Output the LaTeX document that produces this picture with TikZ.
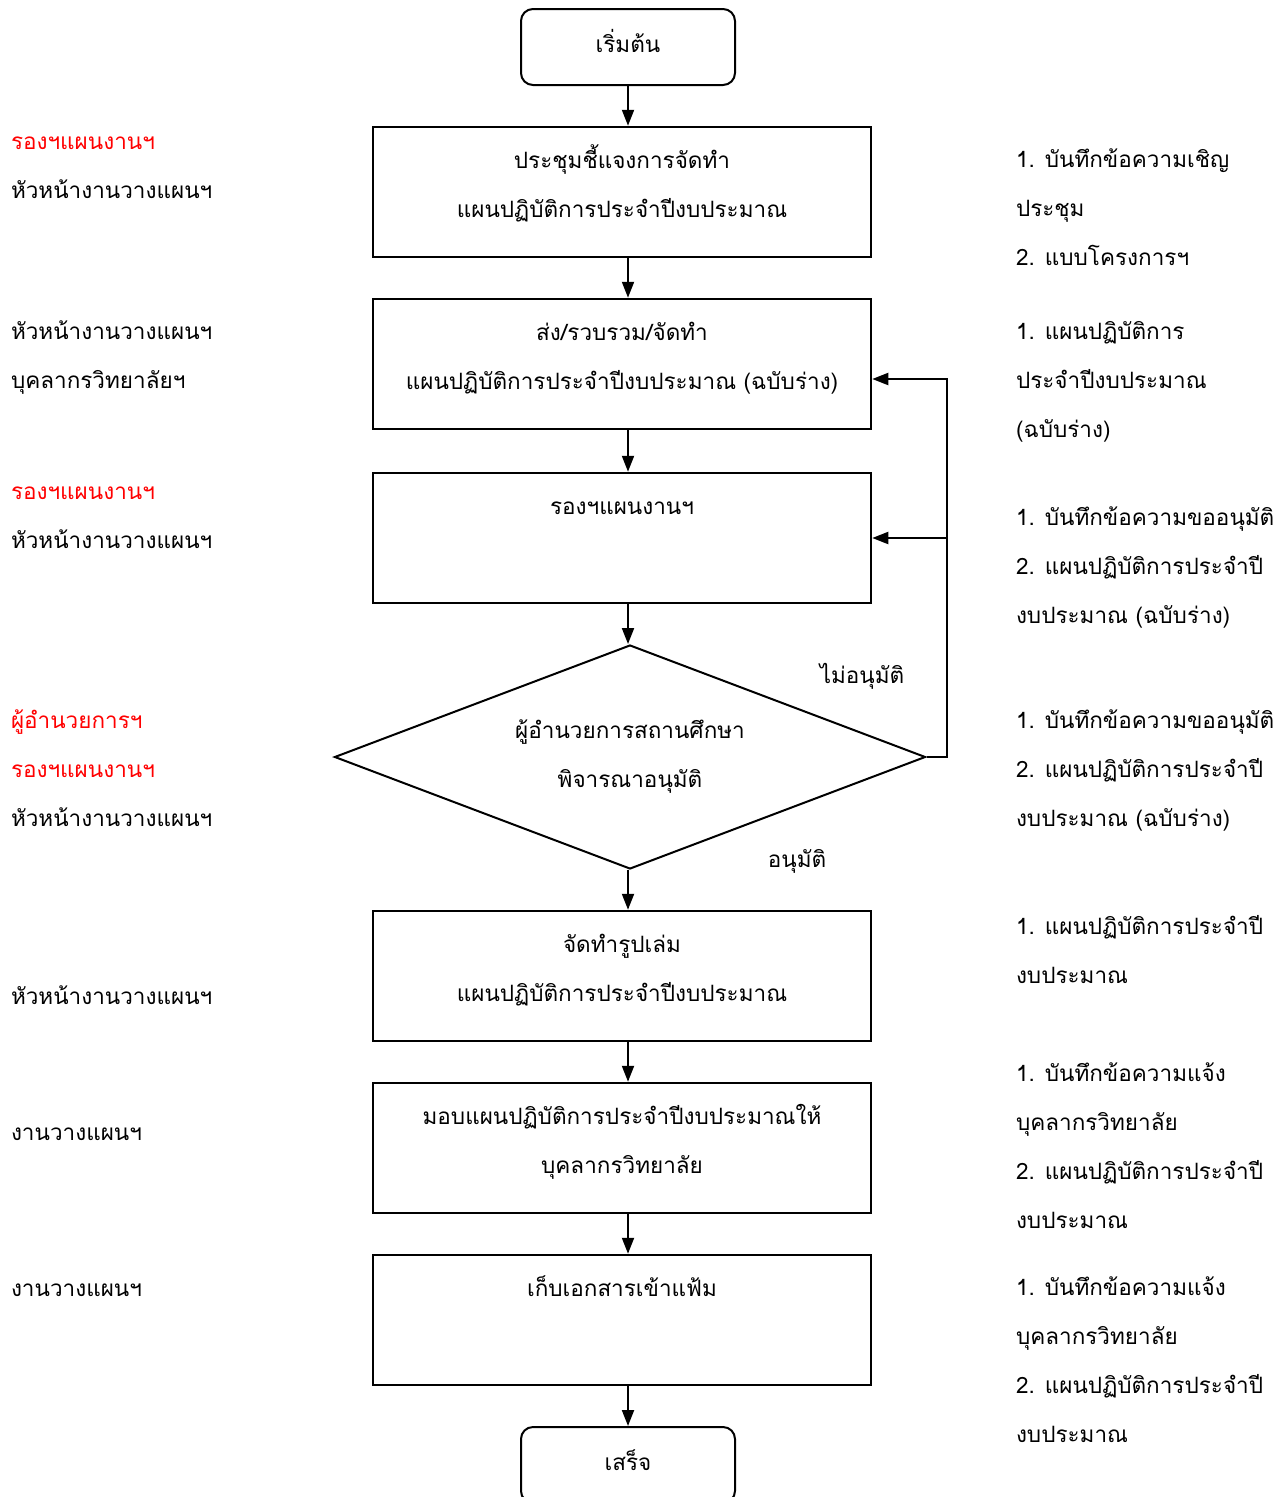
\documentclass[tikz,border=0pt]{standalone}
\usepackage{fontspec}
\newfontfamily\thai[Script=Thai]{Loma}
\usetikzlibrary{arrows.meta,shapes.geometric}

\begin{document}
\begin{tikzpicture}[x=1pt,y=-1pt,->,>={Triangle[length=16pt,width=12pt]},line width=2pt,node distance=172pt,
    font=\thai\fontsize{22.5}{49}\selectfont]

    \tikzstyle{terminal}=[draw,rounded corners=12pt,minimum width=214pt,minimum height=76pt,text height=22pt,text depth=12pt]
    \tikzstyle{process}=[draw,line width=2.5pt,rectangle,text width=498pt,align=center,inner sep=0pt,text height=41pt,text depth=89pt]
    \tikzstyle{decision}=[draw,diamond,aspect=2.64,minimum width=591pt,minimum height=224pt,inner sep=0pt,align=center]
    \tikzstyle{side}=[anchor=base west,align=left,inner sep=0pt]

    \useasboundingbox (0,0) rectangle (1285,1497);

    \node[terminal] (start) at (628,47) {เริ่มต้น};
    \node[process]  (meet)  [below of=start,node distance=145pt,xshift=-6pt] {ประชุมชี้แจงการจัดทำ\\แผนปฏิบัติการประจำปีงบประมาณ};
    \node[process]  (draft) [below of=meet] {ส่ง/รวบรวม/จัดทำ\\แผนปฏิบัติการประจำปีงบประมาณ (ฉบับร่าง)};
    \node[process]  (check) [below of=draft,node distance=174pt] {รองฯแผนงานฯ};
    \node[decision] (ok)    at (630,757) {ผู้อำนวยการสถานศึกษา\\พิจารณาอนุมัติ};
    \node[process]  (book)  at (622,976) {จัดทำรูปเล่ม\\แผนปฏิบัติการประจำปีงบประมาณ};
    \node[process]  (give)  [below of=book] {มอบแผนปฏิบัติการประจำปีงบประมาณให้\\บุคลากรวิทยาลัย};
    \node[process]  (keep)  [below of=give] {เก็บเอกสารเข้าแฟ้ม};
    \node[terminal] (stop)  at (628,1465) {เสร็จ};

    \coordinate (back) at (947,757);
    \coordinate (redo) at ([yshift=-15pt]draft.east);

    \draw (start) -- (start |- meet.north);
    \draw (start |- meet.south) -- (start |- draft.north);
    \draw (start |- draft.south) -- (start |- check.north);
    \draw (start |- check.south) -- (start |- ok.north);
    \draw (start |- ok.south) -- (start |- book.north);
    \draw (start |- book.south) -- (start |- give.north);
    \draw (start |- give.south) -- (start |- keep.north);
    \draw (start |- keep.south) -- (stop);
    \draw (ok.east) -- (back) -- (back |- redo) -- (redo);
    \draw (back |- check.east) -- (check.east);

    \node[anchor=base] (no)  at (862,683) {ไม่อนุมัติ};
    \node[anchor=base] (yes) at (797,867) {อนุมัติ};

    % ผู้รับผิดชอบ
    \node[side] (who1) at (10,198) {\textcolor{red}{รองฯแผนงานฯ}\\หัวหน้างานวางแผนฯ};
    \node[side] (who2) at (10,388) {หัวหน้างานวางแผนฯ\\บุคลากรวิทยาลัยฯ};
    \node[side] (who3) at (10,548) {\textcolor{red}{รองฯแผนงานฯ}\\หัวหน้างานวางแผนฯ};
    \node[side] (who4) at (10,826) {\textcolor{red}{ผู้อำนวยการฯ}\\\textcolor{red}{รองฯแผนงานฯ}\\หัวหน้างานวางแผนฯ};
    \node[side] (who5) at (10,1004) {หัวหน้างานวางแผนฯ};
    \node[side] (who6) at (10,1140) {งานวางแผนฯ};
    \node[side] (who7) at (10,1296) {งานวางแผนฯ};

    % เอกสาร
    \node[side] (doc1) at (1015,265) {1. บันทึกข้อความเชิญ\\ประชุม\\2. แบบโครงการฯ};
    \node[side] (doc2) at (1015,437) {1. แผนปฏิบัติการ\\ประจำปีงบประมาณ\\(ฉบับร่าง)};
    \node[side] (doc3) at (1015,623) {1. บันทึกข้อความขออนุมัติ\\2. แผนปฏิบัติการประจำปี\\งบประมาณ (ฉบับร่าง)};
    \node[side] (doc4) at (1015,826) {1. บันทึกข้อความขออนุมัติ\\2. แผนปฏิบัติการประจำปี\\งบประมาณ (ฉบับร่าง)};
    \node[side] (doc5) at (1015,983) {1. แผนปฏิบัติการประจำปี\\งบประมาณ};
    \node[side] (doc6) at (1015,1228) {1. บันทึกข้อความแจ้ง\\บุคลากรวิทยาลัย\\2. แผนปฏิบัติการประจำปี\\งบประมาณ};
    \node[side] (doc7) at (1015,1442) {1. บันทึกข้อความแจ้ง\\บุคลากรวิทยาลัย\\2. แผนปฏิบัติการประจำปี\\งบประมาณ};
\end{tikzpicture}
\end{document}
